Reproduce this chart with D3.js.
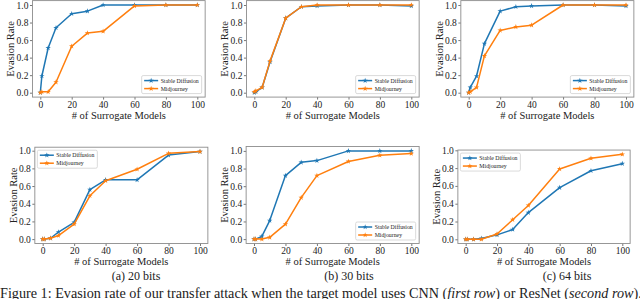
<!DOCTYPE html>
<html>
<head>
<meta charset="utf-8">
<script src="https://d3js.org/d3.v7.min.js"></script>
<style>
  body { margin: 0; background: #fff; }
  svg { display: block; }
  text { font-family: "Liberation Serif", "DejaVu Serif", serif; fill: #222; }
</style>
</head>
<body>
<script>
// number of surrogate models on the x axis
var surrogateModels = [0, 1, 5, 10, 20, 30, 40, 60, 80, 100];
var seriesNames = ["Stable Diffusion", "Midjourney"];
var xTicks = [0, 20, 40, 60, 80, 100];
var yTicks = [0, 0.2, 0.4, 0.6, 0.8, 1.0];
var subcaptions = ["(a) 20 bits", "(b) 30 bits", "(c) 64 bits"];

// first row: CNN
var cnn20Sd = [0.00, 0.19, 0.51, 0.74, 0.90, 0.93, 1.00, 1.00, 1.00, 1.00];
var cnn20Mj = [0.00, 0.01, 0.01, 0.12, 0.53, 0.68, 0.70, 0.99, 1.00, 1.00];
var cnn30Sd = [0.00, 0.01, 0.06, 0.35, 0.85, 0.98, 0.99, 1.00, 1.00, 0.99];
var cnn30Mj = [0.01, 0.02, 0.06, 0.36, 0.85, 0.98, 1.00, 1.00, 1.00, 1.00];
var cnn64Sd = [0.00, 0.06, 0.19, 0.56, 0.93, 0.98, 0.99, 1.00, 1.00, 0.99];
var cnn64Mj = [0.00, 0.01, 0.06, 0.42, 0.71, 0.75, 0.77, 1.00, 1.00, 1.00];

// second row: ResNet
var res20Sd = [0.00, 0.00, 0.01, 0.08, 0.19, 0.56, 0.67, 0.67, 0.95, 0.99];
var res20Mj = [0.00, 0.00, 0.01, 0.04, 0.17, 0.49, 0.66, 0.79, 0.97, 0.99];
var res30Sd = [0.00, 0.00, 0.03, 0.21, 0.72, 0.87, 0.89, 1.00, 1.00, 1.00];
var res30Mj = [0.00, 0.00, 0.00, 0.02, 0.17, 0.47, 0.72, 0.88, 0.95, 0.97];
var res64Sd = [0.00, 0.00, 0.00, 0.01, 0.05, 0.11, 0.30, 0.58, 0.77, 0.85];
var res64Mj = [0.00, 0.00, 0.00, 0.00, 0.06, 0.22, 0.38, 0.79, 0.91, 0.955];

var colors = ["#1f77b4", "#ff7f0e"];

var W = 640, H = 299;
var svg = d3.select("body").append("svg").attr("width", W).attr("height", H);

// pixel layout of each panel: where x=0/x=100 and y=0/y=1 land
var panels = [
  {sd: cnn20Sd, mj: cnn20Mj, px: [40.3, 197.3], py: [92.7, 5.0], legend: "br"},
  {sd: cnn30Sd, mj: cnn30Mj, px: [254.3, 411.3], py: [92.7, 5.0], legend: "br"},
  {sd: cnn64Sd, mj: cnn64Mj, px: [468.7, 626.0], py: [92.7, 5.0], legend: "br"},
  {sd: res20Sd, mj: res20Mj, px: [42.7, 200.0], py: [239.1, 150.7], legend: "tl"},
  {sd: res30Sd, mj: res30Mj, px: [254.0, 411.3], py: [239.1, 150.9], legend: "br"},
  {sd: res64Sd, mj: res64Mj, px: [465.7, 622.3], py: [239.3, 150.3], legend: "tl"}
];

var star = d3.symbol().type(d3.symbolStar).size(9);

panels.forEach(function(p) {
  var x = d3.scaleLinear().domain([0, 100]).range(p.px);
  var y = d3.scaleLinear().domain([0, 1]).range(p.py);
  var all = p.sd.concat(p.mj);
  var lo = d3.min(all), hi = d3.max(all), pad = (hi - lo) * 0.05;
  var left = x(-5), right = x(105), top = y(hi + pad), bottom = y(lo - pad);

  var g = svg.append("g");

  var xAxis = g.append("g")
      .attr("transform", "translate(0," + bottom + ")")
      .call(d3.axisBottom(x).tickValues(xTicks).tickSize(2.5).tickPadding(1.5));
  var yAxis = g.append("g")
      .attr("transform", "translate(" + left + ",0)")
      .call(d3.axisLeft(y).tickValues(yTicks).tickFormat(d3.format(".1f")).tickSize(2.5).tickPadding(1.5));
  [xAxis, yAxis].forEach(function(a) {
    a.attr("font-family", null).attr("font-size", null);
    a.select(".domain").remove();
    a.selectAll(".tick line").attr("stroke", "#777");
    a.selectAll(".tick text").style("font-size", "9.5px").attr("fill", "#222");
  });

  g.append("rect")
      .attr("x", left).attr("y", top)
      .attr("width", right - left).attr("height", bottom - top)
      .attr("fill", "none").attr("stroke", "#8c8c8c").attr("stroke-width", 0.9);

  g.append("text")
      .attr("transform", "translate(" + (left - 18) + "," + ((top + bottom) / 2) + ") rotate(-90)")
      .attr("text-anchor", "middle")
      .style("font-size", "10.5px")
      .text("Evasion Rate");

  g.append("text")
      .attr("x", (left + right) / 2).attr("y", bottom + 21.5)
      .attr("text-anchor", "middle")
      .style("font-size", "10.5px")
      .text("# of Surrogate Models");

  var line = d3.line().x(function(d) { return x(d[0]); }).y(function(d) { return y(d[1]); });
  [p.sd, p.mj].forEach(function(vals, i) {
    var pts = surrogateModels.map(function(m, k) { return [m, vals[k]]; });
    g.append("path").datum(pts)
        .attr("d", line).attr("fill", "none")
        .attr("stroke", colors[i]).attr("stroke-width", 1.5)
        .attr("stroke-linejoin", "round");
    g.selectAll(null).data(pts).enter().append("path")
        .attr("d", star)
        .attr("transform", function(d) { return "translate(" + x(d[0]) + "," + y(d[1]) + ")"; })
        .attr("fill", colors[i]);
  });

  // legend
  var lw = 60, lh = 18;
  var lx = p.legend === "br" ? right - 3.5 - lw : left + 2.5;
  var ly = p.legend === "br" ? bottom - 3.5 - lh : top + 3;
  var lg = g.append("g").attr("transform", "translate(" + lx + "," + ly + ")");
  lg.append("rect").attr("width", lw).attr("height", lh).attr("rx", 1.5)
      .attr("fill", "#fff").attr("fill-opacity", 0.8)
      .attr("stroke", "#d0d0d0").attr("stroke-width", 0.8);
  seriesNames.forEach(function(name, i) {
    var ry = 5 + i * 8;
    lg.append("line").attr("x1", 2.5).attr("x2", 16.5).attr("y1", ry).attr("y2", ry)
        .attr("stroke", colors[i]).attr("stroke-width", 1.5);
    lg.append("path").attr("d", star).attr("transform", "translate(9.5," + ry + ")").attr("fill", colors[i]);
    lg.append("text").attr("x", 19).attr("y", ry + 2)
        .style("font-size", "5.8px").text(name);
  });
});

// sub-captions under each column
var capX = [136, 349, 567];
subcaptions.forEach(function(s, i) {
  svg.append("text").attr("x", capX[i]).attr("y", 280)
      .attr("text-anchor", "middle").style("font-size", "12px").text(s);
});

var cap = svg.append("text").attr("x", 0).attr("y", 297.5).style("font-size", "14.2px");
cap.append("tspan").text("Figure 1:  Evasion rate of our transfer attack when the target model uses CNN (");
cap.append("tspan").style("font-style", "italic").text("first row");
cap.append("tspan").text(") or ResNet (");
cap.append("tspan").style("font-style", "italic").text("second row");
cap.append("tspan").text(").");
</script>
</body>
</html>
